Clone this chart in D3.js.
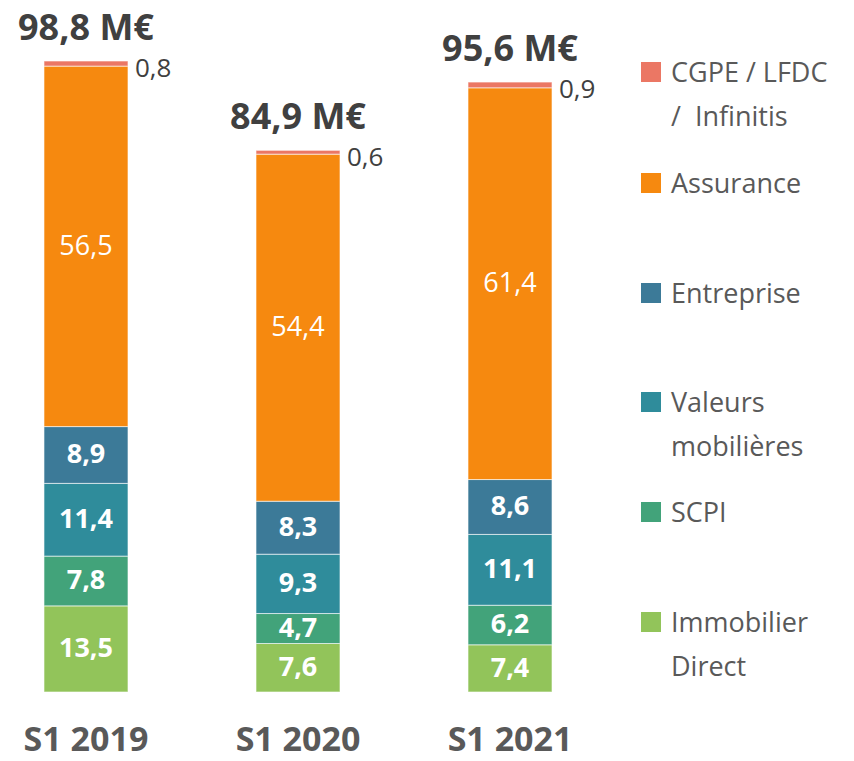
<!DOCTYPE html>
<html><head><meta charset="utf-8">
<script src="https://cdn.jsdelivr.net/npm/d3@7"></script>
<style>body{margin:0;background:#fff} text{white-space:pre}</style>
</head><body>
<svg id="c" width="854" height="761"></svg>
<script>
const categories = ["S1 2019", "S1 2020", "S1 2021"];
const seriesNames = ["Immobilier Direct", "SCPI", "Valeurs mobilières", "Entreprise", "Assurance", "CGPE / LFDC / Infinitis"];
const immobilier = [13.5, 7.6, 7.4];
const scpi = [7.8, 4.7, 6.2];
const valeurs = [11.4, 9.3, 11.1];
const entreprise = [8.9, 8.3, 8.6];
const assurance = [56.5, 54.4, 61.4];
const cgpe = [0.8, 0.6, 0.9];
const totals = [98.8, 84.9, 95.6];
const colors = ["#92C45A", "#42A37A", "#2F8C9B", "#3C7A98", "#F6890F", "#EB7764"];
const legendLines = [["CGPE / LFDC", "/  Infinitis"], ["Assurance"], ["Entreprise"], ["Valeurs", "mobilières"], ["SCPI"], ["Immobilier", "Direct"]];

const font = "'Open Sans', sans-serif";
const svg = d3.select("#c");
const rows = categories.map((c, i) => ({cat: c, s0: immobilier[i], s1: scpi[i], s2: valeurs[i], s3: entreprise[i], s4: assurance[i], s5: cgpe[i]}));
const keys = ["s0","s1","s2","s3","s4","s5"];
const stacked = d3.stack().keys(keys)(rows);

const x = d3.scaleBand().domain(categories).range([0, 596]).paddingInner(0.6038).paddingOuter(0.2075);
const y = d3.scaleLinear().domain([0, 98.9]).range([692, 61]);

const g = svg.append("g");
stacked.forEach((layer, li) => {
  g.selectAll(null).data(layer).enter().append("rect")
    .attr("x", d => x(d.data.cat))
    .attr("width", x.bandwidth())
    .attr("y", d => y(d[1]))
    .attr("height", d => y(d[0]) - y(d[1]))
    .attr("fill", colors[li])
    .attr("stroke", "rgba(255,255,255,0.6)")
    .attr("stroke-width", 1);
  layer.forEach(d => {
    const v = d[1] - d[0];
    const val = d3.format(".1f")(v).replace(".", ",");
    if (li === 5) {
      g.append("text").attr("x", x(d.data.cat) + x.bandwidth() + 7).attr("y", y(d[1]) + 9)
        .attr("font-family", font).attr("font-size", 26).attr("fill", "#404040")
        .attr("dominant-baseline", "middle").text(val);
    } else {
      g.append("text").attr("x", x(d.data.cat) + x.bandwidth() / 2).attr("y", (y(d[0]) + y(d[1])) / 2 + 1)
        .attr("text-anchor", "middle").attr("dominant-baseline", "middle")
        .attr("font-family", font).attr("font-size", 27)
        .attr("font-weight", li === 4 ? "normal" : "bold").attr("fill", "#fff").text(val);
    }
  });
});

// totals
categories.forEach((c, i) => {
  const top = y(d3.sum(keys, k => rows[i][k]));
  g.append("text").attr("x", x(c) + x.bandwidth() / 2).attr("y", top - 21)
    .attr("text-anchor", "middle").attr("font-family", font).attr("font-size", 36)
    .attr("font-weight", "bold").attr("fill", "#404040")
    .text(d3.format(".1f")(totals[i]).replace(".", ",") + " M€");
});

// x axis labels
const xa = svg.append("g").attr("transform", "translate(0,751)")
  .call(d3.axisBottom(x).tickSize(0).tickPadding(0));
xa.select(".domain").remove();
xa.selectAll("text").attr("font-family", font).attr("font-size", 34).attr("font-weight", "bold")
  .attr("fill", "#595959").attr("dy", "0");

// legend
const legTops = [62, 173, 283, 392, 502, 612];
const legendOrder = [5, 4, 3, 2, 1, 0];
legendOrder.forEach((si, j) => {
  const ly = legTops[j];
  svg.append("rect").attr("x", 641).attr("y", ly).attr("width", 20).attr("height", 20).attr("fill", colors[si]);
  legendLines[j].forEach((t, k) => {
    svg.append("text").attr("x", 671).attr("y", ly + 20 + k * 44)
      .attr("font-family", font).attr("font-size", 27).attr("fill", "#595959").text(t);
  });
});
</script>
</body></html>
